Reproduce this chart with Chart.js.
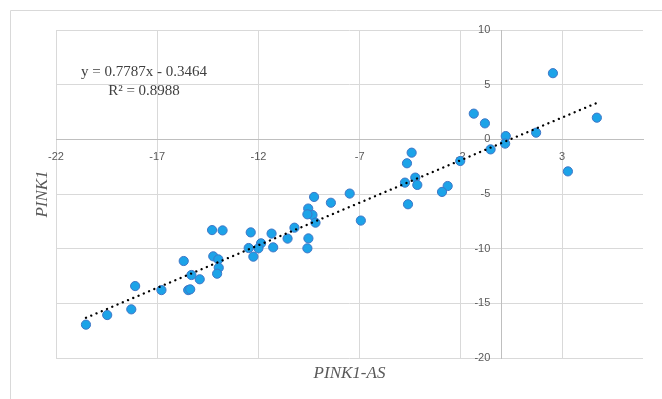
<!DOCTYPE html>
<html><head><meta charset="utf-8">
<script src="https://cdn.jsdelivr.net/npm/chart.js@4"></script>
<style>html,body{margin:0;padding:0;background:#fff;}#wrap{position:relative;width:662px;height:399px;}</style>
</head><body><div id="wrap"><canvas id="c" width="662" height="399"></canvas></div>
<script>
// PINK1-AS (x) values
const pink1AS = [2.55,-1.36,-0.81,4.72,1.72,0.22,0.19,-0.53,3.29,-2.03,
  -4.43,-4.66,-4.25,-4.76,-4.15,-2.65,-2.93,-7.49,-8.42,-6.94,
  -4.61,-9.25,-9.54,-9.33,-9.58,-9.18,-9.53,-9.58,-10.22,-10.56,
  -11.35,-11.27,-11.87,-12.0,-12.48,-12.25,-12.38,-13.77,-14.29,-14.23,
  -13.98,-13.96,-14.04,-15.69,-15.31,-14.9,-15.47,-15.37,-16.79,-18.09,
  -18.28,-19.47,-20.52];
// PINK1 (y) values
const pink1 = [6.05,2.35,1.46,1.98,0.61,0.30,-0.39,-0.92,-2.93,-1.98,
  -1.22,-2.19,-3.50,-3.96,-4.17,-4.27,-4.81,-4.96,-5.80,-7.43,
  -5.94,-5.27,-6.33,-6.92,-6.86,-7.62,-9.06,-9.97,-8.08,-9.08,
  -8.62,-9.88,-9.51,-9.97,-9.94,-10.73,-8.51,-8.33,-8.30,-10.70,
  -10.98,-11.74,-12.29,-11.13,-12.41,-12.80,-13.79,-13.72,-13.79,-13.42,
  -15.55,-16.07,-16.95];
const xTickValues = [-22,-17,-12,-7,-2,3];
const yTickValues = [10,5,0,-5,-10,-15,-20];
const xRange = [-22, 7];
const yRange = [-20, 10];
const trendSlope = 0.7787;
const trendIntercept = -0.3464;
const equationLines = ['y = 0.7787x - 0.3464', 'R\u00B2 = 0.8988'];
const xTitle = 'PINK1-AS';
const yTitle = 'PINK1';

const points = pink1AS.map((x, i) => ({x: x, y: pink1[i]}));
const xMin = Math.min(...pink1AS), xMax = Math.max(...pink1AS);
const trend = [xMin, xMax].map(x => ({x: x, y: trendSlope * x + trendIntercept}));

const decor = {
  id: 'decor',
  beforeDraw(chart) {
    const ctx = chart.ctx;
    ctx.save();
    ctx.strokeStyle = '#d9d9d9';
    ctx.lineWidth = 1;
    ctx.beginPath();
    ctx.moveTo(10.5, 399); ctx.lineTo(10.5, 10.5); ctx.lineTo(662, 10.5);
    ctx.stroke();
    ctx.restore();
  },
  afterDraw(chart) {
    const ctx = chart.ctx, a = chart.chartArea;
    ctx.save();
    ctx.fillStyle = '#595959';
    ctx.font = 'italic 17px "Liberation Serif", "Times New Roman", serif';
    ctx.textAlign = 'center';
    ctx.textBaseline = 'middle';
    ctx.fillText(xTitle, (a.left + a.right) / 2, 374);
    ctx.translate(43, (a.top + a.bottom) / 2);
    ctx.rotate(-Math.PI / 2);
    ctx.fillText(yTitle, 0, 0);
    ctx.restore();
    ctx.save();
    ctx.fillStyle = '#404040';
    ctx.font = '15px "Liberation Serif", "Times New Roman", serif';
    ctx.textAlign = 'center';
    ctx.textBaseline = 'middle';
    ctx.fillText(equationLines[0], a.left + 88, a.top + 42);
    ctx.fillText(equationLines[1], a.left + 88, a.top + 61);
    ctx.restore();
  }
};

new Chart(document.getElementById('c'), {
  type: 'scatter',
  data: {
    datasets: [
      {
        type: 'line', data: trend, borderColor: '#000', borderWidth: 2.3,
        borderDash: [0.1, 5.6], borderCapStyle: 'round', pointRadius: 0, fill: false
      },
      {
        data: points, backgroundColor: '#1ca3e8', borderColor: '#3f76c6',
        borderWidth: 1, pointRadius: 4.6
      }
    ]
  },
  options: {
    responsive: false, animation: false,
    layout: {padding: {left: 56, top: 30, right: 19, bottom: 41}},
    plugins: {legend: {display: false}, tooltip: {enabled: false}},
    scales: {
      x: {
        type: 'linear', min: xRange[0], max: xRange[1], position: {y: 0},
        afterBuildTicks: s => { s.ticks = xTickValues.map(v => ({value: v})); },
        grid: {color: '#d9d9d9', drawTicks: false},
        border: {color: '#bfbfbf', width: 1},
        ticks: {color: '#595959', padding: 11, font: {family: '"Liberation Sans", Arial, sans-serif', size: 11}}
      },
      y: {
        type: 'linear', min: yRange[0], max: yRange[1], position: {x: 0},
        afterBuildTicks: s => { s.ticks = yTickValues.map(v => ({value: v})); },
        grid: {color: '#d9d9d9', drawTicks: false},
        border: {color: '#bfbfbf', width: 1},
        ticks: {
          color: '#595959', font: {family: '"Liberation Sans", Arial, sans-serif', size: 11},
          callback: v => v + '\u2002\u2002'
        }
      }
    }
  },
  plugins: [decor]
});
</script></body></html>
